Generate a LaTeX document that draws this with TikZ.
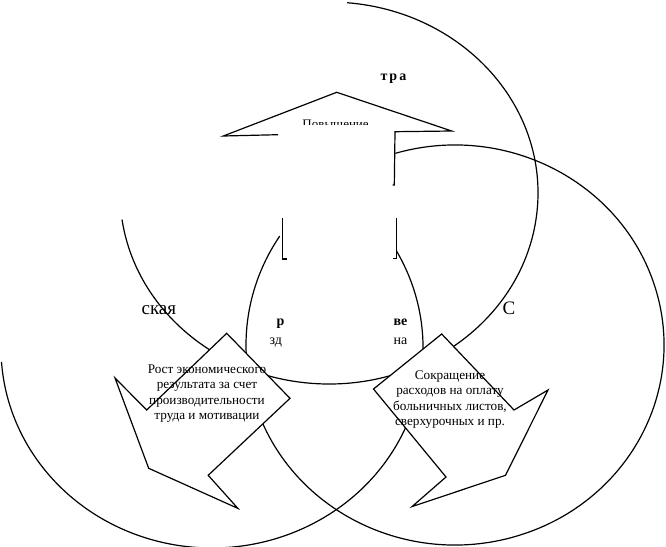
\documentclass[tikz,border=0pt]{standalone}
\usepackage{fontspec}
\setmainfont{Liberation Serif}
\begin{document}
\begin{tikzpicture}[x=1pt,y=-1pt,line width=1.2pt,line join=miter,
  ring/.style={line width=1.2pt},
  shapeout/.style={line width=1.2pt,fill=white},
  txt/.style={font=\fontsize{13.2}{15.3}\selectfont,align=center,inner sep=0pt},
  lbl/.style={font=\fontsize{19}{21}\selectfont,inner sep=0pt},
  frag/.style={font=\fontsize{14}{16}\selectfont,inner sep=0pt},
  fragb/.style={font=\fontsize{14}{16}\selectfont\bfseries,inner sep=0pt}]
\useasboundingbox (0,0) rectangle (666,546);
% circles (visible arcs only)
\draw[ring] (329,193) ++(-85:209 and 191) arc[start angle=-85,end angle=172,x radius=209,y radius=191];
\draw[ring] (455,345) ++(-107:209 and 200) arc[start angle=-107,end angle=213,x radius=209,y radius=200];
\draw[ring] (212,348) ++(-29:211 and 200) arc[start angle=-29,end angle=176,x radius=211,y radius=200];
% up arrow: white body, partly visible outline
\fill[white] (224,136) -- (338,92) -- (451,132) -- (395,132) -- (397,258) -- (282,258) -- (282,134) -- cycle;
\draw (278,134.7) -- (223.3,136) -- (336.7,92.3) -- (451.7,131) -- (395,131.7) -- (394.3,185) -- (392.5,185);
\draw (287.3,259) -- (282.3,259) -- (282.3,218.3);
\draw (393.3,258.3) -- (396.7,258.3) -- (396.7,218.3);
\node[font=\fontsize{13}{15}\selectfont,inner sep=0pt,anchor=base] (up) at (335.6,128) {Повышение};
\fill[white] (296,124.6) rectangle (376,136);
\node[font=\fontsize{14}{16}\selectfont\bfseries,inner sep=0pt,anchor=base west] (top) at (380,80) {т\hspace{2pt}р\hspace{2pt}а};
% bottom shapes
\draw[shapeout] (115,378) -- (146.7,410) -- (226.7,333.3) -- (290,398.3) -- (208.2,475.3) -- (237.9,508.4) -- (148.7,468.3) -- cycle;
\draw[shapeout] (548,390) -- (514,410) -- (441.7,334) -- (373.5,389) -- (446,477) -- (412,506.6) -- (505.5,475.3) -- cycle;
\node[txt] (left) at (207,393.5) {Рост экономического\\результата за счет\\производительности\\труда и мотивации};
\node[txt] (right) at (450,399.5) {Сокращение\\расходов на оплату\\больничных листов,\\сверхурочных и пр.};
% circle labels (fragments)
\node[lbl,anchor=base west] (econ) at (141,314) {ская};
\node[lbl,anchor=base west] (soc) at (502,314) {С};
% centre fragments
\node[fragb,anchor=base west] (c1) at (276,325) {р};
\node[fragb,anchor=base east] (c2) at (408,325) {ве};
\node[frag,anchor=base west] (c3) at (269,344) {зд};
\node[frag,anchor=base east] (c4) at (408,344) {на};
\end{tikzpicture}
\end{document}
